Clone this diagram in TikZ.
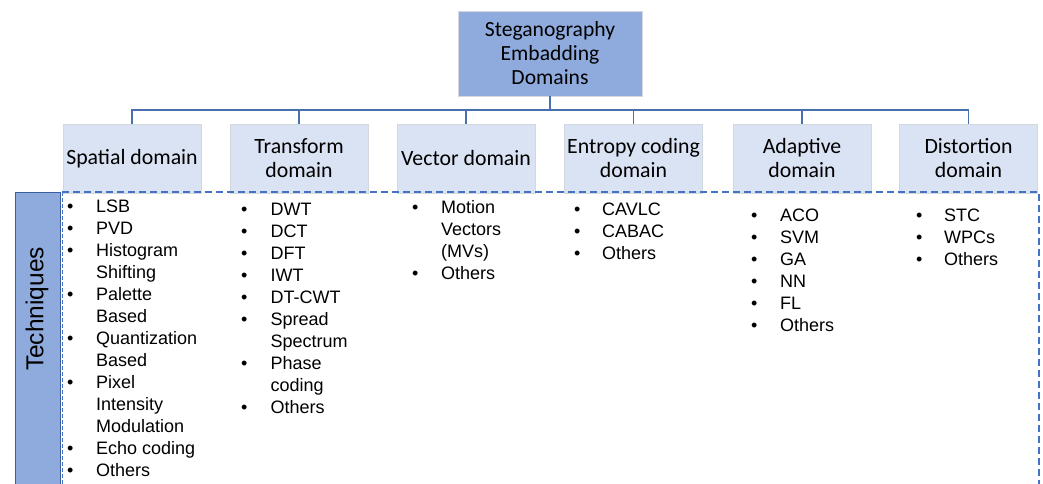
\documentclass[tikz,border=0pt]{standalone}
\usepackage{fontspec}
\setmainfont{Carlito}
\newfontfamily\listfont{Liberation Sans}
\definecolor{rootfill}{HTML}{8FAADC}
\definecolor{domfill}{HTML}{DAE3F3}
\definecolor{boxedge}{HTML}{D3D7DE}
\definecolor{linkblue}{HTML}{4A6FAE}
\definecolor{frameblue}{HTML}{4472C4}
\definecolor{techedge}{HTML}{3B5E9C}
\newcommand{\itemrows}[1]{\begin{tabular}[t]{@{}p{28pt}@{}l@{}}#1\end{tabular}}
\tikzset{
  rootbox/.style={draw=boxedge, line width=0.8pt, fill=rootfill,
    minimum width=184pt, minimum height=85pt, inner sep=0pt,
    align=center, font=\fontsize{21.6}{24}\selectfont},
  dombox/.style={draw=boxedge, line width=0.8pt, fill=domfill,
    minimum width=138pt, minimum height=69pt, inner sep=0pt,
    align=center, font=\fontsize{21.8}{24}\selectfont},
  link/.style={draw=linkblue, line width=1.4pt},
  techbox/.style={draw=techedge, line width=1pt, fill=rootfill,
    minimum width=45pt, minimum height=300pt, inner sep=0pt},
  techlabel/.style={rotate=90, inner sep=0pt,
    font=\listfont\fontsize{24.5}{28}\selectfont},
  frame/.style={draw=frameblue, line width=1.3pt,
    dash pattern=on 7pt off 4pt},
  techlist/.style={anchor=base west, inner sep=0pt,
    font=\listfont\fontsize{18}{22}\selectfont}
}
\begin{document}
\begin{tikzpicture}[x=1pt,y=-1pt]
  \useasboundingbox (0,0) rectangle (1043,484);

  % root of the tree
  \node[rootbox] (root) at (550,53.5) {Steganography\\Embadding\\Domains};

  % the six embedding domains
  \node[dombox] (spatial)    at (132,158.5)   {Spatial domain};
  \node[dombox] (transform)  at (299,158.5)   {Transform\\domain};
  \node[dombox] (vector)     at (466,158.5)   {Vector domain};
  \node[dombox] (entropy)    at (633.5,158.5) {Entropy coding\\domain};
  \node[dombox] (adaptive)   at (802,158.5)   {Adaptive\\domain};
  \node[dombox] (distortion) at (968.5,158.5) {Distortion\\domain};

  % tree connectors through a common bus line
  \coordinate (bus) at (550,110);
  \foreach \d in {spatial,transform,vector,entropy,adaptive,distortion}
    \draw[link] (root.south) -- (root.south |- bus) -| (\d.north);

  % side label for the technique lists
  \node[techbox] (techbar) at (37.5,342) {};
  \node[techlabel] (techname) at (37,309) {Techniques};

  % dashed frame round the technique lists (open at the bottom)
  \coordinate (fnw) at (62,192);
  \coordinate (fne) at (1039,192);
  \coordinate (fsw) at (62,492);
  \coordinate (fse) at (1039,492);
  \draw[frame] (fnw) -- (fne) -- (fse);
  \draw[frame, line width=1pt, dash pattern=on 4pt off 2pt] (fnw) -- (fsw);

  % technique lists, one per domain
  \node[techlist] (l1) at (67,212) {\begin{tabular}[t]{@{}p{29pt}@{}l@{}}%
    • & LSB\\ • & PVD\\ • & Histogram\\ & Shifting\\ • & Palette\\ & Based\\
    • & Quantization\\ & Based\\ • & Pixel\\ & Intensity\\ & Modulation\\
    • & Echo coding\\ • & Others\end{tabular}};
  \node[techlist] (l2) at (241,215) {\begin{tabular}[t]{@{}p{29.5pt}@{}l@{}}%
    • & DWT\\ • & DCT\\ • & DFT\\ • & IWT\\ • & DT-CWT\\ • & Spread\\ & Spectrum\\
    • & Phase\\ & coding\\ • & Others\end{tabular}};
  \node[techlist] (l3) at (412,213) {\begin{tabular}[t]{@{}p{29pt}@{}l@{}}%
    • & Motion\\ & Vectors\\ & (MVs)\\ • & Others\end{tabular}};
  \node[techlist] (l4) at (574,215) {\itemrows{%
    • & CAVLC\\ • & CABAC\\ • & Others}};
  \node[techlist] (l5) at (751,221.5) {\begin{tabular}[t]{@{}p{29pt}@{}l@{}}%
    • & ACO\\ • & SVM\\ • & GA\\ • & NN\\ • & FL\\ • & Others\end{tabular}};
  \node[techlist] (l6) at (916,221.5) {\itemrows{%
    • & STC\\ • & WPCs\\ • & Others}};
\end{tikzpicture}
\end{document}
